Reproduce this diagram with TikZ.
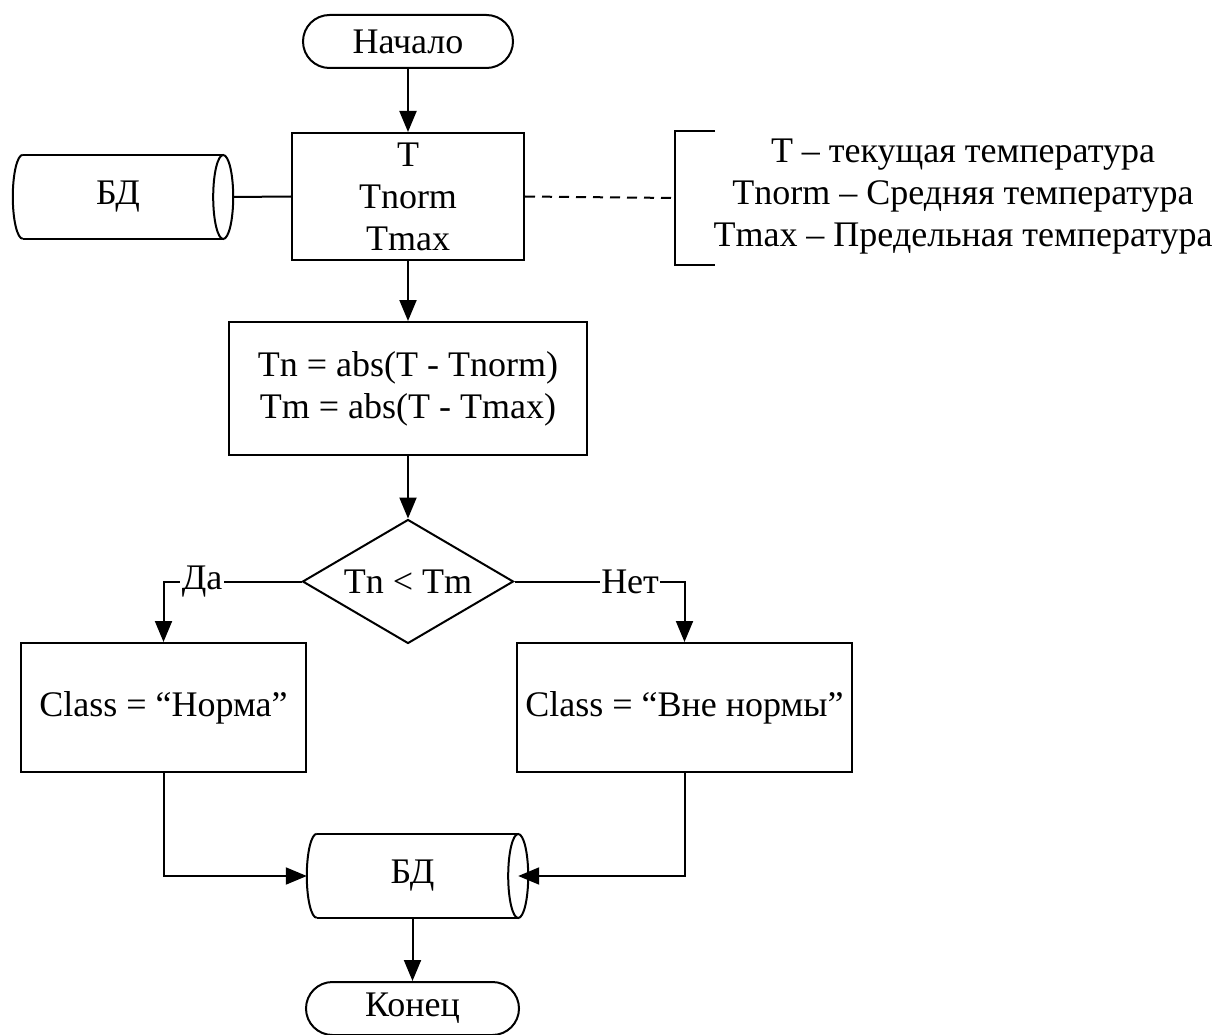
\documentclass[tikz,border=0pt]{standalone}
\usepackage{fontspec}
\setmainfont{Liberation Serif}
\usetikzlibrary{arrows.meta,shapes.geometric}
\begin{document}
\begin{tikzpicture}[x=1pt,y=-1pt,
  every node/.style={font=\fontsize{36}{42}\selectfont, inner sep=0pt},
  ln/.style={line width=2pt},
  arr/.style={ln, -{Triangle[length=21pt,width=17pt]}},
  box/.style={draw, ln, rectangle, align=center},
  term/.style={draw, ln, rectangle, rounded corners=26.5pt, minimum width=210pt, minimum height=53pt},
  dec/.style={draw, ln, diamond, aspect=1.7, minimum width=211pt, minimum height=124pt},
  dbbody/.style={rectangle, minimum height=84pt},
  lbl/.style={fill=white, inner sep=1.5pt}]
\useasboundingbox (0,0) rectangle (1216,1035);

% start
\node[term] (start) at (408,41.5) {Начало};
\node[box, minimum width=232pt, minimum height=127pt] (inp) at (408,196.5) {T\\Tnorm\\Tmax};
\draw[arr] (start) -- (inp);

% left database
\node[dbbody, minimum width=210pt] (db1) at (118,197) {БД};
\draw[ln] ([xshift=10pt]db1.north west) -- (db1.north east)
          ([xshift=10pt]db1.south west) -- (db1.south east);
\draw[ln] (db1.east) ellipse [x radius=10, y radius=42];
\draw[ln] ([xshift=10pt]db1.north west) arc[start angle=270, end angle=90, x radius=10, y radius=42];
\draw[ln] ([xshift=10pt]db1.east) -- (inp.west);

% legend
\node[align=center] (leg) at (963,197) {T – текущая температура\\Tnorm – Средняя температура\\Tmax – Предельная температура};
\coordinate (brk) at (675,198);
\draw[ln, dash pattern=on 10pt off 7pt] (inp.east) -- (brk);
\draw[line width=1.4pt] (715,131) -- (675,131) -- (675,265) -- (715,265);

% calculation
\node[box, minimum width=358pt, minimum height=133pt] (calc) at (408,388.5) {Tn = abs(T - Tnorm)\\Tm = abs(T - Tmax)};
\draw[arr] (inp) -- (calc);

% decision
\node[dec] (cond) at (408,581.5) {Tn < Tm};
\draw[arr] (calc) -- (cond);

\node[box, minimum width=285pt, minimum height=129pt] (yes) at (163.5,707.5) {Class = “Норма”};
\node[box, minimum width=335pt, minimum height=129pt] (no) at (684.5,707.5) {Class = “Вне нормы”};
\draw[arr] (cond.west) -| node[lbl, pos=0.36] {Да} (yes.north);
\draw[arr] (cond.east) -| node[lbl, pos=0.34] {Нет} (no.north);

% bottom database
\node[dbbody, minimum width=211pt] (db2) at (412.5,876) {БД};
\draw[ln] ([xshift=10pt]db2.north west) -- (db2.north east)
          ([xshift=10pt]db2.south west) -- (db2.south east);
\draw[ln] (db2.east) ellipse [x radius=10, y radius=42];
\draw[ln] ([xshift=10pt]db2.north west) arc[start angle=270, end angle=90, x radius=10, y radius=42];
\draw[arr] (yes.south) |- (db2.west);
\draw[arr] (no.south) |- (db2.east);

% end
\node[term, minimum width=213pt] (stop) at (412.5,1008.5) {Конец};
\draw[arr] (db2.south) -- (stop.north);
\end{tikzpicture}
\end{document}
